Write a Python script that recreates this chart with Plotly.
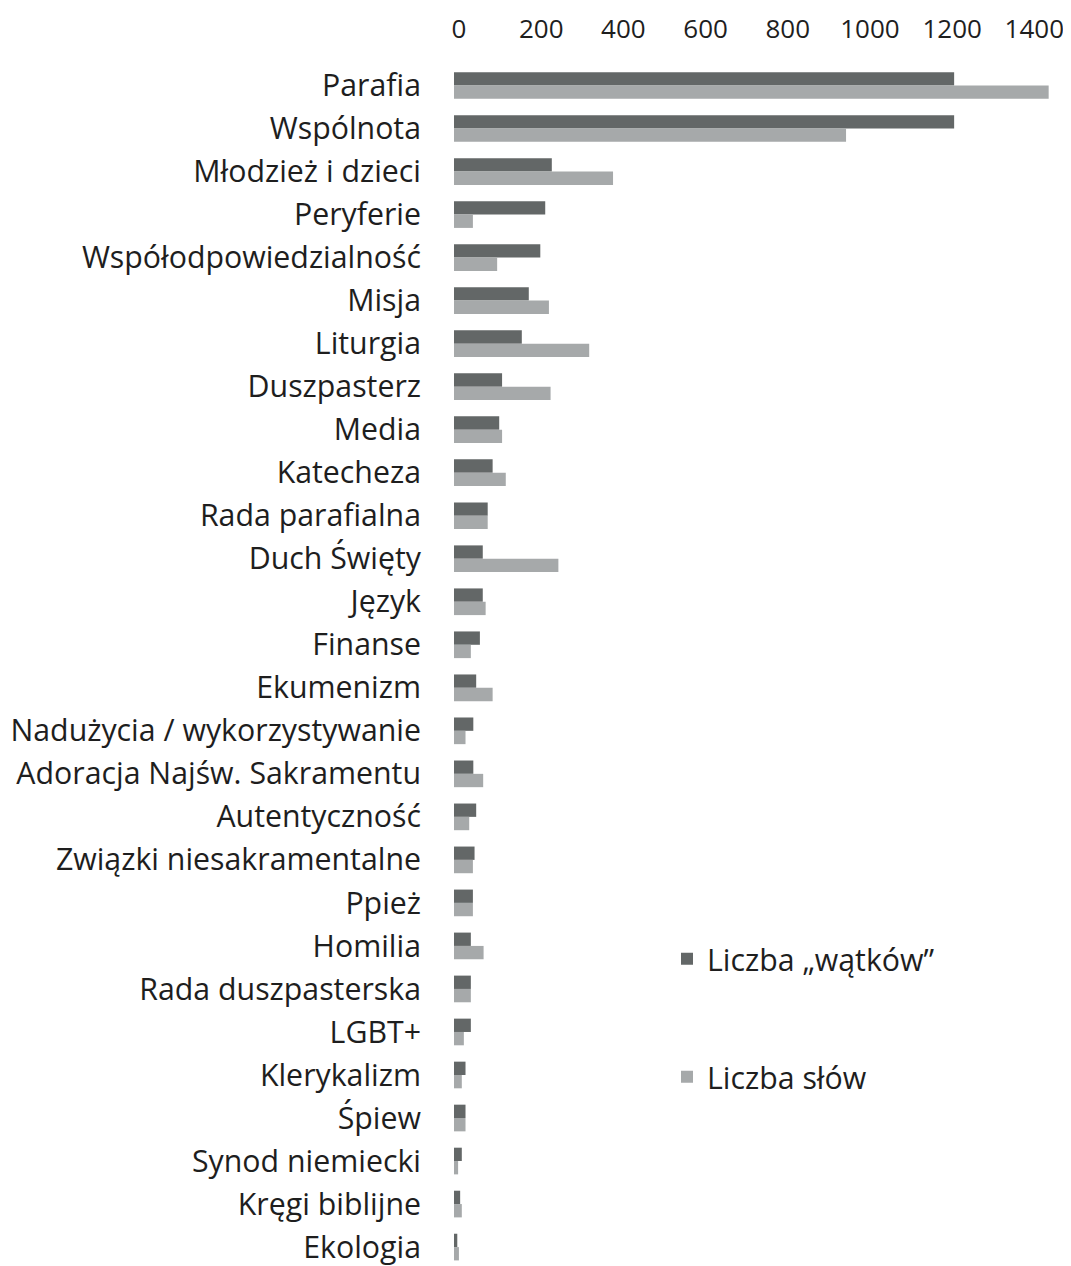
import plotly.graph_objects as go

categories = ["Parafia", "Wspólnota", "Młodzież i dzieci", "Peryferie", "Współodpowiedzialność",
              "Misja", "Liturgia", "Duszpasterz", "Media", "Katecheza", "Rada parafialna",
              "Duch Święty", "Język", "Finanse", "Ekumenizm", "Nadużycia / wykorzystywanie",
              "Adoracja Najśw. Sakramentu", "Autentyczność", "Związki niesakramentalne", "Ppież",
              "Homilia", "Rada duszpasterska", "LGBT+", "Klerykalizm", "Śpiew", "Synod niemiecki",
              "Kręgi biblijne", "Ekologia"]
watki = [1217, 1217, 238, 222, 210, 182, 165, 117, 110, 94, 82, 70, 70, 63, 54, 47, 47, 54,
         50, 46, 41, 41, 41, 28, 28, 19, 15, 8]
slowa = [1447, 954, 387, 46, 105, 231, 329, 235, 117, 126, 82, 254, 77, 41, 94, 28, 71, 37,
         46, 46, 72, 41, 24, 19, 28, 10, 19, 12]
tick_vals = [0, 200, 400, 600, 800, 1000, 1200, 1400]
series_names = ["Liczba „wątków”", "Liczba słów"]

DARK = "#636767"
LIGHT = "#a6a9aa"
FONT = "Open Sans"
TXT = "#1e1e1e"

fig = go.Figure()
fig.add_trace(go.Bar(y=categories, x=watki, orientation="h", name=series_names[0],
                     marker=dict(color=DARK, line=dict(width=0)), legend="legend",
                     showlegend=True))
fig.add_trace(go.Bar(y=categories, x=slowa, orientation="h", name=series_names[1],
                     marker=dict(color=LIGHT, line=dict(width=0)), legend="legend2",
                     showlegend=True))

# page has an 8px body margin: plot area targeted at page x 454..1054, y 63.5..1266
fig.update_layout(
    template="none",
    width=1071, height=1266,
    margin=dict(l=446, r=25, t=55.5, b=8, autoexpand=False),
    paper_bgcolor="white", plot_bgcolor="white",
    showlegend=True,
    barmode="group", bargap=0.38, bargroupgap=0,
    font=dict(family=FONT, size=30, color=TXT),
    xaxis=dict(side="top", range=[0, 1460], tickvals=tick_vals, showgrid=False,
               zeroline=False, showline=False, ticks="", ticklabelstandoff=20,
               ticklabelshift=5, automargin=False, tickangle=0,
               tickfont=dict(size=26, color=TXT)),
    yaxis=dict(type="category", range=[27.44, -0.5], showgrid=False, zeroline=False,
               showline=False, ticks="", ticklabelstandoff=32, automargin=False,
               tickfont=dict(size=30.3, color=TXT)),
    legend=dict(x=0.355, y=1 - (959 - 63.5) / 1202.5,
                xanchor="left", yanchor="middle", font=dict(size=30.3, color=TXT),
                bgcolor="rgba(0,0,0,0)"),
    legend2=dict(x=0.355, y=1 - (1077 - 63.5) / 1202.5,
                 xanchor="left", yanchor="middle", font=dict(size=30.3, color=TXT),
                 bgcolor="rgba(0,0,0,0)"),
)

fig.write_html("out.html")
